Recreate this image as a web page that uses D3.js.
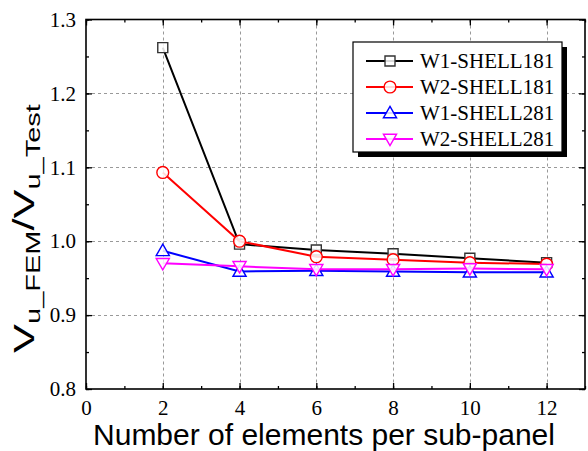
<!DOCTYPE html>
<html>
<head>
<meta charset="utf-8">
<script src="https://cdn.jsdelivr.net/npm/d3@7"></script>
<style>
  html, body { margin: 0; padding: 0; background: #fff; }
  svg { display: block; }
</style>
</head>
<body>
<svg id="chart" width="588" height="451"></svg>
<script>
// Mesh refinement study: ratio of FEM to test ultimate shear
const elements = [2, 4, 6, 8, 10, 12];
const w1Shell181 = [1.262, 0.996, 0.988, 0.983, 0.977, 0.971];
const w2Shell181 = [1.093, 1.000, 0.979, 0.975, 0.971, 0.969];
const w1Shell281 = [0.987, 0.959, 0.960, 0.959, 0.958, 0.958];
const w2Shell281 = [0.970, 0.966, 0.962, 0.962, 0.963, 0.962];
const seriesNames = ["W1-SHELL181", "W2-SHELL181", "W1-SHELL281", "W2-SHELL281"];
const xTicks = [0, 2, 4, 6, 8, 10, 12];
const yTicks = [0.8, 0.9, 1.0, 1.1, 1.2, 1.3];

const series = [
  { name: seriesNames[0], values: w1Shell181, color: "#000000", stroke: "#333333", symbol: "square" },
  { name: seriesNames[1], values: w2Shell181, color: "#ff0000", stroke: "#ff0000", symbol: "circle" },
  { name: seriesNames[2], values: w1Shell281, color: "#0000ff", stroke: "#0000ff", symbol: "up" },
  { name: seriesNames[3], values: w2Shell281, color: "#ff00ff", stroke: "#ff00ff", symbol: "down" }
];

const svg = d3.select("#chart");
const plotLeft = 86, plotRight = 585, plotTop = 19.5, plotBottom = 389;

const x = d3.scaleLinear().domain([0, 13]).range([plotLeft, plotRight]);
const y = d3.scaleLinear().domain([0.8, 1.3]).range([plotBottom, plotTop]);

// dashed grid at major ticks
const grid = svg.append("g").attr("stroke", "#999").attr("stroke-dasharray", "3,3").attr("stroke-width", 1);
grid.selectAll("line.v").data(xTicks.filter(d => d > 0)).enter().append("line")
  .attr("x1", d => Math.round(x(d)) + 0.5).attr("x2", d => Math.round(x(d)) + 0.5)
  .attr("y1", plotTop).attr("y2", plotBottom);
grid.selectAll("line.h").data(yTicks.filter(d => d > 0.8 && d < 1.3)).enter().append("line")
  .attr("x1", plotLeft).attr("x2", plotRight)
  .attr("y1", d => Math.round(y(d)) + 0.5).attr("y2", d => Math.round(y(d)) + 0.5);

// axes with inward ticks on all four sides
const xMinor = d3.range(0, 14, 1);
const yMinor = d3.range(0.8, 1.3001, 0.05);

function addAxis(axis, transform) {
  const g = svg.append("g").attr("transform", transform).call(axis);
  g.select(".domain").remove();
  g.selectAll("line").attr("stroke", "#000").attr("stroke-width", 1.3);
  return g;
}

addAxis(d3.axisBottom(x).tickValues(xMinor).tickSize(-3).tickFormat(""), `translate(0,${plotBottom})`);
addAxis(d3.axisTop(x).tickValues(xMinor).tickSize(-3).tickFormat(""), `translate(0,${plotTop})`);
addAxis(d3.axisLeft(y).tickValues(yMinor).tickSize(-3).tickFormat(""), `translate(${plotLeft},0)`);
addAxis(d3.axisRight(y).tickValues(yMinor).tickSize(-3).tickFormat(""), `translate(${plotRight},0)`);

const xAx = addAxis(d3.axisBottom(x).tickValues(xTicks).tickSize(-6).tickPadding(10).tickFormat(d3.format("d")), `translate(0,${plotBottom})`);
addAxis(d3.axisTop(x).tickValues(xTicks).tickSize(-6).tickFormat(""), `translate(0,${plotTop})`);
const yAx = addAxis(d3.axisLeft(y).tickValues(yTicks).tickSize(-6).tickPadding(10).tickFormat(d3.format(".1f")), `translate(${plotLeft},0)`);
addAxis(d3.axisRight(y).tickValues(yTicks).tickSize(-6).tickFormat(""), `translate(${plotRight},0)`);

xAx.selectAll("text").attr("font-family", "Liberation Serif, Times New Roman, serif").attr("font-size", 21).attr("fill", "#000").attr("dy", "0.75em");
yAx.selectAll("text").attr("font-family", "Liberation Serif, Times New Roman, serif").attr("font-size", 21).attr("fill", "#000");

// frame
svg.append("rect").attr("x", plotLeft).attr("y", plotTop).attr("width", plotRight - plotLeft).attr("height", plotBottom - plotTop)
  .attr("fill", "none").attr("stroke", "#000").attr("stroke-width", 1.6);

// symbols
const symbolType = { square: d3.symbolSquare, circle: d3.symbolCircle, up: d3.symbolTriangle, down: d3.symbolTriangle };
const symbolSize = { square: 100, circle: 110, up: 75, down: 75 };
function drawSymbol(g, s, cx, cy) {
  const flip = s.symbol === "down" ? " rotate(180)" : "";
  const nudge = (s.symbol === "up" || s.symbol === "down") ? " translate(0,1)" : "";
  g.append("path")
    .attr("d", d3.symbol().type(symbolType[s.symbol]).size(symbolSize[s.symbol])())
    .attr("transform", `translate(${cx},${cy})` + flip + nudge)
    .attr("fill", "#fff").attr("fill-opacity", 0.85)
    .attr("stroke", s.stroke).attr("stroke-width", 1.4);
}

const line = d3.line().x(d => x(d[0])).y(d => y(d[1]));
series.forEach(s => {
  const pts = elements.map((e, i) => [e, s.values[i]]);
  svg.append("path").datum(pts).attr("d", line)
    .attr("fill", "none").attr("stroke", s.color).attr("stroke-width", 2);
  const g = svg.append("g");
  pts.forEach(p => drawSymbol(g, s, x(p[0]), y(p[1])));
});

// legend with drop shadow
const lg = { x: 353, y: 42, w: 209, h: 110 };
svg.append("rect").attr("x", lg.x + 5).attr("y", lg.y + 5).attr("width", lg.w).attr("height", lg.h).attr("fill", "#000");
svg.append("rect").attr("x", lg.x).attr("y", lg.y).attr("width", lg.w).attr("height", lg.h)
  .attr("fill", "#fff").attr("stroke", "#000").attr("stroke-width", 1.2);
const rowY = [61, 87, 113, 139];
series.forEach((s, i) => {
  const g = svg.append("g");
  g.append("line").attr("x1", 366).attr("x2", 413).attr("y1", rowY[i]).attr("y2", rowY[i])
    .attr("stroke", s.color).attr("stroke-width", 2);
  drawSymbol(g, s, 390, rowY[i]);
  g.append("text").attr("x", 420).attr("y", rowY[i]).attr("dy", "0.35em")
    .attr("font-family", "Liberation Sans, Arial, sans-serif").attr("font-family", "Liberation Serif, Times New Roman, serif").attr("font-size", 21)
    .text(s.name);
});

// axis titles
svg.append("text").attr("x", 324).attr("y", 445).attr("text-anchor", "middle")
  .attr("font-family", "Liberation Sans, Arial, sans-serif").attr("font-size", 30)
  .text("Number of elements per sub-panel");

// y title: stretched along its baseline to span the axis height
const ytG = svg.append("g");
const yt = ytG.append("text").attr("text-anchor", "start")
  .attr("font-family", "Liberation Sans, Arial, sans-serif").attr("font-size", 30);
yt.append("tspan").text("V");
yt.append("tspan").attr("font-size", 20).attr("dy", 6).text("u_FEM");
yt.append("tspan").attr("dy", -6).text("/V");
yt.append("tspan").attr("font-size", 20).attr("dy", 6).text("u_Test");
const ytLen = yt.node().getComputedTextLength();
const ytScale = 249 / ytLen;
ytG.attr("transform", `translate(34,353) rotate(-90) scale(${ytScale},1)`);
</script>
</body>
</html>
